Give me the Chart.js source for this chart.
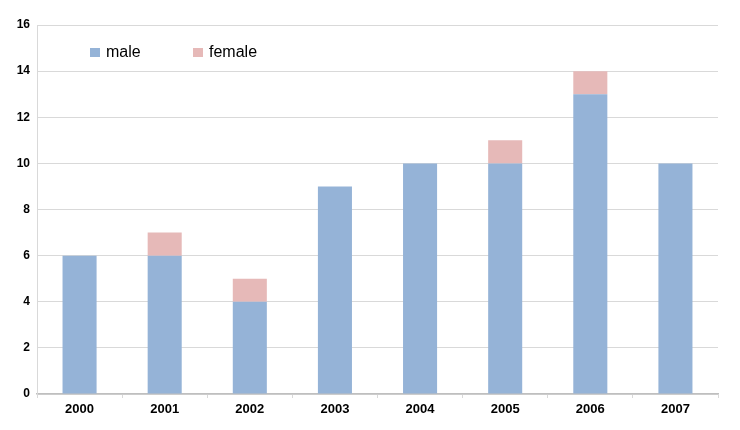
<!DOCTYPE html>
<html>
<head>
<meta charset="utf-8">
<script src="https://cdn.jsdelivr.net/npm/chart.js@4.4.1/dist/chart.umd.min.js"></script>
<style>
  html, body { margin: 0; padding: 0; background: #fff; }
  .wrap { width: 740px; height: 430px; position: relative; }
</style>
</head>
<body>
<div class="wrap"><canvas id="barChart"></canvas></div>
<script>
// 数据
const years = ['2000', '2001', '2002', '2003', '2004', '2005', '2006', '2007'];
const male = [6, 6, 4, 9, 10, 10, 13, 10];
const female = [0, 1, 1, 0, 0, 1, 1, 0];
const yTicks = [0, 2, 4, 6, 8, 10, 12, 14, 16];

// 图例画在绘图区内左上角
const insideLegend = {
    id: 'insideLegend',
    afterDraw(chart) {
        const ctx = chart.ctx;
        const area = chart.chartArea;
        let x = area.left + 53;
        const y = area.top + 27;
        ctx.save();
        ctx.font = '16px "Liberation Sans", Arial, sans-serif';
        ctx.textBaseline = 'middle';
        chart.data.datasets.forEach(ds => {
            ctx.fillStyle = ds.backgroundColor;
            ctx.fillRect(x, y - 4, 10, 9);
            ctx.fillStyle = '#000';
            ctx.fillText(ds.label, x + 16, y + 1);
            x += 103;
        });
        ctx.restore();
    }
};

const ctx = document.getElementById('barChart');
new Chart(ctx, {
    type: 'bar',
    data: {
        labels: years,
        datasets: [{
            label: 'male',
            data: male,
            backgroundColor: '#95b3d7',
            categoryPercentage: 1,
            barPercentage: 0.4
        }, {
            label: 'female',
            data: female,
            backgroundColor: '#e6b9b8',
            categoryPercentage: 1,
            barPercentage: 0.4
        }]
    },
    options: {
        responsive: true,
        maintainAspectRatio: false,
        animation: false,
        layout: {
            padding: { top: 25, right: 22, left: 0, bottom: 0 }
        },
        plugins: {
            legend: { display: false },
            tooltip: { enabled: false }
        },
        scales: {
            x: {
                stacked: true,
                grid: {
                    display: true,
                    offset: true,
                    drawOnChartArea: false,
                    drawTicks: true,
                    tickLength: 4,
                    color: '#d9d9d9'
                },
                border: { color: '#bfbfbf', width: 1.5 },
                ticks: {
                    color: '#000',
                    padding: 4,
                    font: { family: '"Liberation Sans", Arial, sans-serif', size: 13, weight: 'bold' }
                },
                afterFit(scale) { scale.height = 36; }
            },
            y: {
                stacked: true,
                min: 0,
                max: 16,
                afterBuildTicks(scale) {
                    scale.ticks = yTicks.map(v => ({ value: v }));
                },
                grid: {
                    color: '#d9d9d9',
                    drawTicks: false
                },
                border: { color: '#d9d9d9' },
                ticks: {
                    color: '#000',
                    padding: 7,
                    font: { family: '"Liberation Sans", Arial, sans-serif', size: 12, weight: 'bold' }
                },
                afterFit(scale) { scale.width = 37; }
            }
        }
    },
    plugins: [insideLegend]
});
</script>
</body>
</html>
